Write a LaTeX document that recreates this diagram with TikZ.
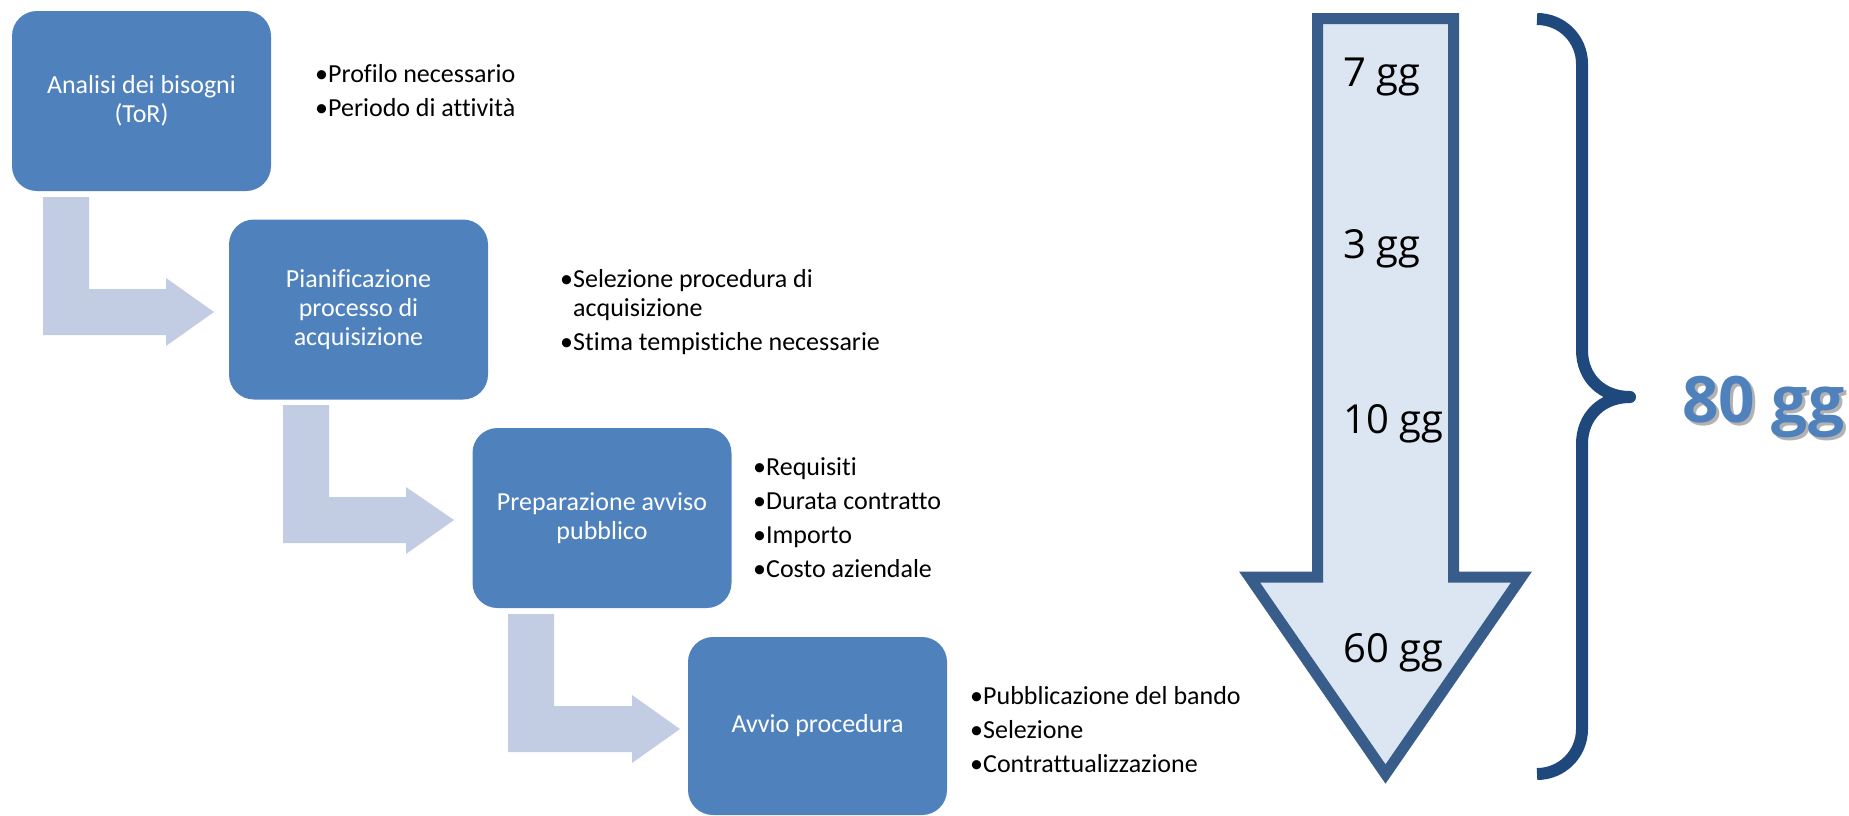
\documentclass[tikz,border=0pt]{standalone}
\usepackage{fontspec}
\setmainfont{Carlito}[Ligatures=NoCommon]
\newfontfamily\numfont{Open Sans}
\definecolor{boxblue}{RGB}{79,129,189}
\definecolor{bentcol}{RGB}{194,205,227}
\definecolor{arrowfill}{RGB}{220,230,242}
\definecolor{arrowline}{RGB}{56,93,138}
\definecolor{bracecol}{RGB}{31,73,125}
\begin{document}
\begin{tikzpicture}[x=1pt,y=-1pt,
  stepbox/.style={rectangle, rounded corners=25pt, fill=boxblue, draw=none, text=white,
    align=center, font=\fontsize{26}{29}\selectfont, minimum width=259pt, minimum height=180pt, inner sep=0pt},
  bentarrow/.style={fill=bentcol, draw=none},
  bulletlist/.style={anchor=base west, inner sep=0pt, font=\fontsize{26}{29}\selectfont},
  daylabel/.style={anchor=base west, inner sep=0pt, font=\numfont\fontsize{40}{48}\selectfont},
  bigarrow/.style={fill=arrowfill, draw=arrowline, line width=11pt, line join=miter},
  bracestyle/.style={draw=bracecol, line width=12pt, line join=round, line cap=butt},
  totalstyle/.style={anchor=base west, inner sep=0pt, font=\numfont\bfseries\fontsize{64}{70}\selectfont}]
\useasboundingbox (0,0) rectangle (1849,815);

% bent arrows
\path[bentarrow] (43,197) -- (89,197) -- (89,289) -- (166,289) -- (166,278) -- (214,312) -- (166,346) -- (166,335) -- (43,335) -- cycle;
\path[bentarrow] (283,405) -- (329,405) -- (329,497) -- (406,497) -- (406,487) -- (454,520) -- (406,554) -- (406,543) -- (283,543) -- cycle;
\path[bentarrow] (508,614) -- (554,614) -- (554,706) -- (632,706) -- (632,695) -- (680,729) -- (632,763) -- (632,752) -- (508,752) -- cycle;

% boxes
\node[stepbox] (b1) at (141.5,101) {Analisi dei bisogni\\(ToR)};
\node[stepbox] (b2) at (358.5,309.5) {Pianificazione\\processo di\\acquisizione};
\node[stepbox] (b3) at (602,518) {Preparazione avviso\\pubblico};
\node[stepbox, minimum height=178pt] (b4) at (817.5,726) {Avvio procedura};

% bullet lists
\node[bulletlist] (l1) at (315,82) {\begin{tabular}[t]{@{}l@{}l@{}}\textbullet&Profilo necessario\\[5pt]\textbullet&Periodo di attività\end{tabular}};
\node[bulletlist] (l2) at (560,287) {\begin{tabular}[t]{@{}l@{}l@{}}\textbullet&Selezione procedura di\\&acquisizione\\[5pt]\textbullet&Stima tempistiche necessarie\end{tabular}};
\node[bulletlist] (l3) at (753,475) {\begin{tabular}[t]{@{}l@{}l@{}}\textbullet&Requisiti\\[5pt]\textbullet&Durata contratto\\[5pt]\textbullet&Importo\\[5pt]\textbullet&Costo aziendale\end{tabular}};
\node[bulletlist] (l4) at (970,704) {\begin{tabular}[t]{@{}l@{}l@{}}\textbullet&Pubblicazione del bando\\[5pt]\textbullet&Selezione\\[5pt]\textbullet&Contrattualizzazione\end{tabular}};

% big down arrow
\path[bigarrow] (1317.5,18.5) -- (1453.5,18.5) -- (1453.5,577) -- (1521.5,577) -- (1385.5,774) -- (1249.5,577) -- (1317.5,577) -- cycle;
\node[daylabel] (d1) at (1343,86) {7 gg};
\node[daylabel] (d2) at (1343,258) {3 gg};
\node[daylabel] (d3) at (1343,433) {10 gg};
\node[daylabel] (d4) at (1343,662) {60 gg};

% brace
\path[bracestyle] (1537,19) .. controls (1562,19) and (1582,39) .. (1582,64) -- (1582,350)
  .. controls (1582,378) and (1602,397) .. (1630,397)
  .. controls (1602,397) and (1582,416) .. (1582,444) -- (1582,729)
  .. controls (1582,754) and (1562,774) .. (1537,774);

% total with soft shadow
\node[totalstyle, text=black, opacity=0.3] (totshadow) at (1685,425.5) {80 gg};
\node[totalstyle, text=boxblue] (tot) at (1682,422) {80 gg};
\end{tikzpicture}
\end{document}
